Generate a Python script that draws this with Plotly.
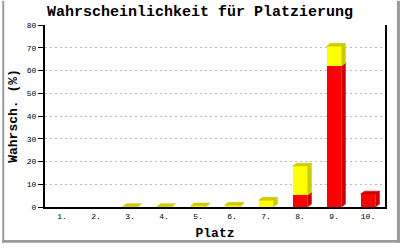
import plotly.graph_objects as go

categories = ["1.", "2.", "3.", "4.", "5.", "6.", "7.", "8.", "9.", "10."]
red_values = [0, 0, 0, 0, 0, 0, 0, 5.2, 62.0, 5.7]
yellow_values = [0, 0, 0.2, 0.2, 0.5, 0.8, 3.0, 12.8, 8.7, 0]
y_ticks = [0, 10, 20, 30, 40, 50, 60, 70, 80]

W, H = 400, 250
L, R, T, B = 43, 15, 25, 37
pw, ph = W - L - R, H - T - B
ymax = 80
xpos = list(range(len(categories)))
bw = 0.44
# 3D depth in pixels converted to data units
dx = 4 / (pw / len(categories))
dy = 3 / (ph / ymax)

RED, RED_D = "#FF0000", "#CC0000"
YEL, YEL_D = "#FFFF00", "#CCCC00"

fig = go.Figure()
fig.add_trace(go.Bar(x=xpos, y=red_values, width=bw, marker=dict(color=RED, line=dict(width=0)), showlegend=False))
fig.add_trace(go.Bar(x=xpos, y=yellow_values, width=bw, marker=dict(color=YEL, line=dict(width=0)), showlegend=False))


def poly(xs, ys, color):
    fig.add_trace(go.Scatter(x=xs + [xs[0]], y=ys + [ys[0]], fill="toself", fillcolor=color,
                             mode="lines", line=dict(color=color, width=0.5),
                             hoverinfo="skip", showlegend=False))


for i, x in enumerate(xpos):
    r, yv = red_values[i], yellow_values[i]
    if r + yv <= 0:
        continue
    x0, x1 = x - bw / 2, x + bw / 2
    if r > 0:
        poly([x1, x1 + dx, x1 + dx, x1], [0, dy, r + dy, r], RED_D)
    if yv > 0:
        poly([x1, x1 + dx, x1 + dx, x1], [r, r + dy, r + yv + dy, r + yv], YEL_D)
    top = r + yv
    tc = YEL_D if yv > 0 else RED_D
    poly([x0, x0 + dx, x1 + dx, x1], [top, top + dy, top + dy, top], tc)

fx = lambda px: (px - L) / pw
fy = lambda py: (H - B - py) / ph
border = "#9a9a9a"
shapes = [
    dict(type="rect", xref="paper", yref="paper", x0=fx(0), x1=fx(2), y0=fy(250), y1=fy(0), fillcolor=border, line=dict(width=0), layer="above"),
    dict(type="rect", xref="paper", yref="paper", x0=fx(397), x1=fx(400), y0=fy(250), y1=fy(0), fillcolor=border, line=dict(width=0), layer="above"),
    dict(type="rect", xref="paper", yref="paper", x0=fx(0), x1=fx(400), y0=fy(250), y1=fy(247), fillcolor=border, line=dict(width=0), layer="above"),
]

mono = "Liberation Mono"
fig.update_layout(
    width=W, height=H, margin=dict(l=L, r=R, t=T, b=B), autosize=False,
    barmode="stack", bargap=0,
    plot_bgcolor="white", paper_bgcolor="white",
    title=dict(text="<b>Wahrscheinlichkeit für Platzierung</b>", x=0.5, xanchor="center",
               y=1 - 11 / H, yanchor="middle", font=dict(family=mono, size=15, color="black")),
    shapes=shapes,
    xaxis=dict(range=[-0.5, len(categories) - 0.5], tickvals=xpos, ticktext=categories,
               showgrid=False, zeroline=False, showline=True, linecolor="black", linewidth=2,
               ticks="", tickfont=dict(family=mono, size=8, color="black"),
               title=dict(text="<b>Platz</b>", font=dict(family=mono, size=13, color="black"), standoff=8),
               fixedrange=True),
    yaxis=dict(range=[0, ymax], tickvals=y_ticks, showgrid=True, gridcolor="#bbbbbb", griddash="2px,3px",
               gridwidth=1, zeroline=False, showline=True, mirror=True, linecolor="black", linewidth=2,
               ticks="outside", ticklen=5, tickcolor="black", tickwidth=1,
               tickfont=dict(family=mono, size=8, color="black"),
               title=dict(text="<b>Wahrsch. (%)</b>", font=dict(family=mono, size=13, color="black"), standoff=6),
               fixedrange=True),
)

fig.write_html("out.html", config={"responsive": False})
